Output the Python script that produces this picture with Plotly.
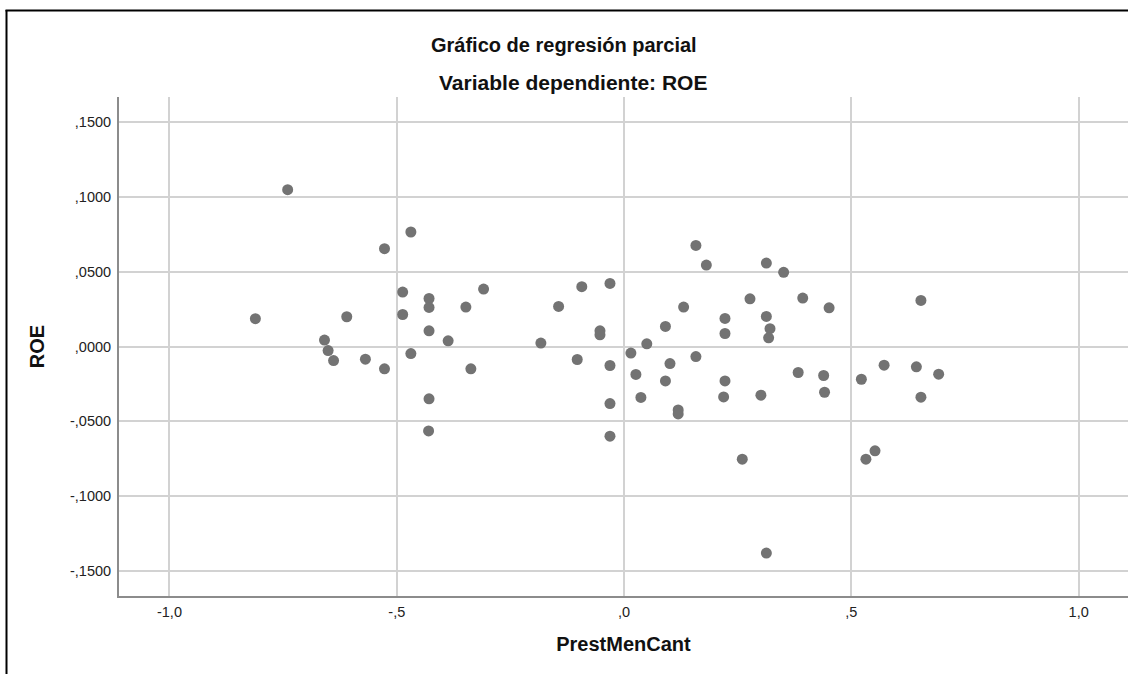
import plotly.graph_objects as go

# Partial regression plot data (PrestMenCant residual vs ROE residual)
prest_men_cant = [
    -0.740, -0.469, -0.527, -0.487, -0.429, -0.429, -0.348, -0.487, -0.811, -0.610,
    -0.429, -0.387, -0.659, -0.651, -0.639, -0.569, -0.527, -0.469, -0.337, -0.429,
    -0.430, -0.309, -0.093, -0.031, -0.144, -0.053, -0.053, -0.183, -0.103, -0.031,
    -0.031, -0.031, 0.158, 0.181, 0.131, 0.091, 0.050, 0.015, 0.158, 0.101,
    0.026, 0.091, 0.037, 0.119, 0.119, 0.313, 0.351, 0.277, 0.393, 0.451,
    0.653, 0.222, 0.313, 0.321, 0.318, 0.222, 0.222, 0.219, 0.301, 0.383,
    0.439, 0.441, 0.522, 0.572, 0.643, 0.692, 0.653, 0.260, 0.532, 0.552,
    0.313,
]
roe = [
    0.1049, 0.0766, 0.0654, 0.0364, 0.0321, 0.0261, 0.0264, 0.0214, 0.0186, 0.0199,
    0.0105, 0.0038, 0.0043, -0.0027, -0.0094, -0.0085, -0.0149, -0.0047, -0.0149, -0.0350,
    -0.0565, 0.0384, 0.0400, 0.0422, 0.0268, 0.0105, 0.0078, 0.0023, -0.0087, -0.0127,
    -0.0382, -0.0600, 0.0676, 0.0545, 0.0264, 0.0134, 0.0018, -0.0044, -0.0067, -0.0114,
    -0.0187, -0.0230, -0.0341, -0.0424, -0.0451, 0.0558, 0.0496, 0.0319, 0.0324, 0.0259,
    0.0308, 0.0188, 0.0201, 0.0119, 0.0058, 0.0087, -0.0230, -0.0337, -0.0326, -0.0174,
    -0.0194, -0.0306, -0.0219, -0.0125, -0.0136, -0.0185, -0.0339, -0.0754, -0.0754, -0.0698,
    -0.1382,
]

x_tickvals = [-1.0, -0.5, 0.0, 0.5, 1.0]
x_ticktext = ["-1,0", "-,5", ",0", ",5", "1,0"]
y_tickvals = [0.15, 0.10, 0.05, 0.0, -0.05, -0.10, -0.15]
y_ticktext = [",1500", ",1000", ",0500", ",0000", "-,0500", "-,1000", "-,1500"]

FONT = "Liberation Sans, Arial, sans-serif"

fig = go.Figure()
fig.add_trace(go.Scatter(
    x=prest_men_cant, y=roe, mode="markers",
    marker=dict(size=11, color="#737373", line=dict(width=0)),
    showlegend=False, hoverinfo="x+y",
))

W, H = 1128, 674
L, R, T, B = 119, 0, 97, 78
pw, ph = W - L - R, H - T - B

def px_to_paper_x(px):
    return (px - L) / pw

def py_to_paper_y(py):
    return (H - B - py) / ph

fig.update_layout(
    width=W, height=H,
    margin=dict(l=L, r=R, t=T, b=B, pad=0),
    paper_bgcolor="white", plot_bgcolor="white",
    font=dict(family=FONT, size=14.5, color="#222222"),
    xaxis=dict(
        range=[-1.111, 1.1085], tickvals=x_tickvals, ticktext=x_ticktext,
        showgrid=True, gridcolor="#d2d2d2", gridwidth=1.5,
        zeroline=False, showline=True, linecolor="#8c8c8c", linewidth=2,
        ticks="", ticklabelstandoff=2,
        title=dict(text="<b>PrestMenCant</b>", font=dict(size=20, color="#111111"), standoff=18),
    ),
    yaxis=dict(
        range=[-0.1669, 0.1669], tickvals=y_tickvals, ticktext=y_ticktext,
        showgrid=True, gridcolor="#d2d2d2", gridwidth=1.5,
        zeroline=False, showline=True, linecolor="#8c8c8c", linewidth=2,
        ticks="", ticklabelstandoff=3,
        title=dict(text="<b>ROE</b>", font=dict(size=20, color="#111111"), standoff=20),
    ),
    annotations=[
        dict(text="<b>Gráfico de regresión parcial</b>", xref="paper", yref="paper",
             x=px_to_paper_x(564), y=py_to_paper_y(45), xanchor="center", yanchor="middle",
             showarrow=False, font=dict(size=20, color="#111111", family=FONT)),
        dict(text="<b>Variable dependiente: ROE</b>", xref="paper", yref="paper",
             x=px_to_paper_x(573), y=py_to_paper_y(82), xanchor="center", yanchor="middle",
             showarrow=False, font=dict(size=21, color="#111111", family=FONT)),
    ],
    shapes=[
        dict(type="line", xref="paper", yref="paper",
             x0=px_to_paper_x(6.5), x1=px_to_paper_x(6.5),
             y0=py_to_paper_y(10), y1=py_to_paper_y(680),
             line=dict(color="black", width=2)),
        dict(type="line", xref="paper", yref="paper",
             x0=px_to_paper_x(5.5), x1=px_to_paper_x(1130),
             y0=py_to_paper_y(10.5), y1=py_to_paper_y(10.5),
             line=dict(color="black", width=2)),
    ],
)

fig.write_html(
    "out.html",
    config={"displayModeBar": False},
    post_script="document.body.style.margin='0';document.body.style.overflow='hidden';",
)
